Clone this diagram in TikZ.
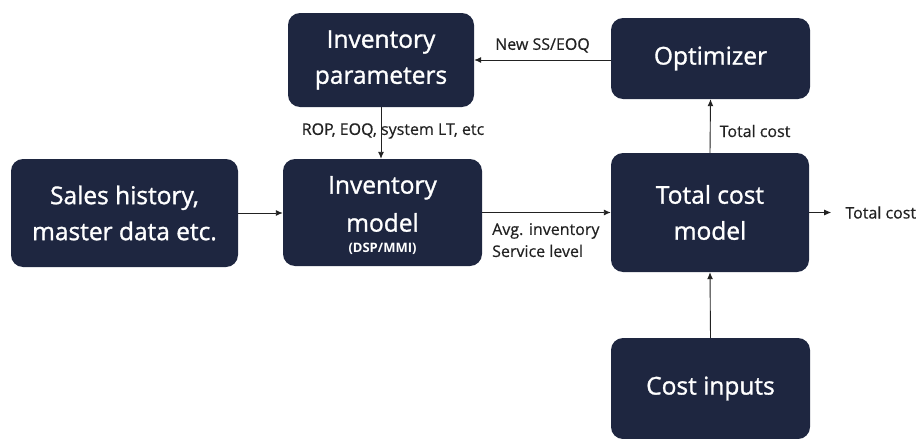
\documentclass[tikz,border=0pt]{standalone}
\usepackage{fontspec}
\setmainfont{Open Sans}
\newfontfamily\boxfont{Open Sans}[FakeBold=1.2]
\newfontfamily\lblfont{Open Sans}[FakeBold=0.5]
\usetikzlibrary{arrows.meta,calc}
\definecolor{navy}{HTML}{1E2640}
\definecolor{ink}{HTML}{222222}
\begin{document}
\begin{tikzpicture}[x=1pt,y=-1pt,
  block/.style={draw=none,fill=navy,rounded corners=12pt,text=white,
    align=center,font=\boxfont\fontsize{24.5}{36}\selectfont,inner sep=0pt},
  flow/.style={draw=ink,line width=0.9pt,-{Latex[length=7pt,width=6pt]}},
  lbl/.style={text=ink,font=\lblfont\fontsize{16}{22}\selectfont,inner sep=0pt}]
\useasboundingbox (0,0) rectangle (922,439);

% blocks
\node[block,minimum width=186pt,minimum height=94pt] (ip) at (381,60) {Inventory\\parameters};
\node[block,minimum width=199pt,minimum height=81pt] (opt) at (710.5,58.5) {Optimizer};
\node[block,minimum width=227pt,minimum height=108pt] (sales) at (124.5,213) {Sales history,\\master data etc.};
\node[block,minimum width=199pt,minimum height=107pt] (im) at (382.5,212.5) {};
\node[text=white,font=\boxfont\fontsize{24.5}{38}\selectfont,align=center,inner sep=0pt] (imtxt) at (382.5,204) {Inventory\\model};
\node[text=white,font=\fontsize{13}{14}\selectfont\bfseries,inner sep=0pt] (imsub) at (382.5,249) {(DSP/MMI)};
\node[block,minimum width=198pt,minimum height=119pt] (tcm) at (710,212.5) {Total cost\\model};
\node[block,minimum width=199pt,minimum height=101pt] (ci) at (710.5,388.5) {Cost inputs};

% connectors
\draw[flow] (opt.west |- ip.east) -- (ip.east)
  node[lbl,pos=0.5,above=7pt] (lnew) {New SS/EOQ};
\draw[flow] (ip.south) -- (ip.south |- im.north)
  node[lbl,pos=0.5,xshift=12pt,yshift=2pt] (lrop) {ROP, EOQ, system LT, etc};
\draw[flow] (sales.east) -- (sales.east -| im.west);
\draw[flow] (im.east) -- (im.east -| tcm.west);
\node[lbl,align=left,anchor=north west,font=\lblfont\fontsize{16}{22}\selectfont] (lavg) at (492,223) {Avg. inventory\\Service level};
\draw[flow] (tcm.north) -- (opt.south)
  node[lbl,pos=0.5,anchor=west,xshift=9pt,yshift=-5pt] (ltc) {Total cost};
\draw[flow] (ci.north) -- (tcm.south);
\coordinate (out) at ($(tcm.east)+(22,0)$);
\draw[flow] (tcm.east) -- (out);
\node[lbl,anchor=west] (lout) at ($(out)+(14,0)$) {Total cost};
\end{tikzpicture}
\end{document}
